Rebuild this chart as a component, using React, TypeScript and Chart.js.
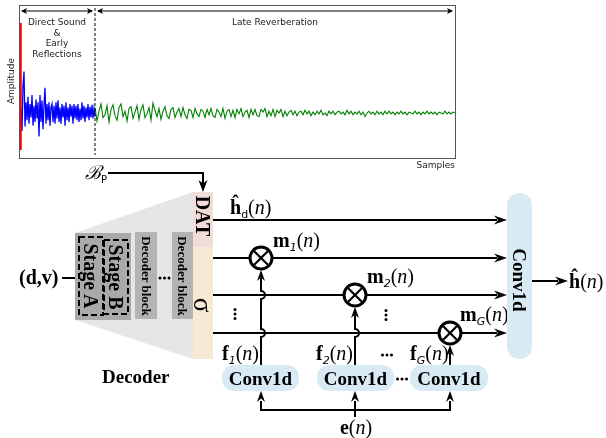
import React, { useEffect, useRef } from "react";
import { Chart, registerables } from "chart.js";

Chart.register(...registerables);

// ---- waveform data (sample index, amplitude) ----
const directX = [1.5, 1.5];
const directY = [1.0, -0.41];

const earlyStart = 2;
const earlyStep = 1;
const earlyValues = [
  0.05, -0.2, 0.3, 0.46, -0.15, 0.12, -0.08, 0.18, -0.12, 0.1,
  -0.05, 0.2, -0.14, 0.08, -0.1, 0.15, -0.06, 0.12, -0.26, 0.2,
  -0.1, 0.14, -0.18, 0.08, 0.28, -0.12, 0.1, -0.08, 0.12, -0.14,
  0.06, 0.1, -0.1, 0.08, -0.12, 0.12, -0.06, 0.14, -0.1, 0.06,
  -0.12, 0.1, -0.05, 0.08, -0.14, 0.12, -0.08, 0.06, -0.1, 0.1,
  -0.04, 0.08, -0.12, 0.1, -0.06, 0.08, -0.08, 0.1, -0.1, 0.05,
  -0.08, 0.12, -0.06, 0.08, -0.1, 0.06, -0.05, 0.1, -0.08, 0.07,
  -0.05, 0.09, -0.06, 0.05, -0.04,
];

const lateStart = 76;
const lateStep = 2;
const lateValues = [
  0.06, -0.09, 0.02, 0.1, -0.05, -0.02, 0.08, -0.1, 0.04, 0.09,
  -0.03, -0.08, 0.06, 0.1, -0.04, 0.02, -0.09, 0.05, 0.07, -0.06,
  0.01, 0.08, -0.07, 0.04, 0.09, -0.05, -0.01, 0.06, -0.08, 0.11,
  0.03, -0.04, 0.05, -0.07, 0.02, 0.07, -0.03, -0.06, 0.04, 0.06,
  -0.05, 0.01, 0.05, -0.04, 0.06, -0.02, -0.06, 0.04, 0.03, -0.05,
  0.05, -0.01, -0.04, 0.04, 0.02, -0.05, 0.04, -0.02, 0.05, -0.03,
  -0.05, 0.04, 0.01, -0.04, 0.05, -0.06, 0.02, 0.04, -0.04, 0.03,
  -0.05, 0.04, -0.01, 0.05, -0.04, 0.01, 0.03, -0.05, 0.04, -0.02,
  0.04, -0.03, -0.04, 0.04, 0.01, 0.05, -0.04, 0.02, -0.03, 0.04,
  -0.04, 0.03, 0.0, 0.04, -0.04, 0.02, -0.03, 0.01, 0.03, -0.02,
  0.02, -0.03, 0.01, 0.02, -0.02, 0.03, -0.01, 0.02, -0.03, 0.01,
  -0.02, 0.02, -0.01, 0.03, -0.02, 0.0, -0.03, 0.02, -0.01, 0.02,
  -0.02, 0.01, 0.02, -0.01, 0.01, -0.02, 0.03, -0.01, 0.02, -0.02,
  0.01, -0.01, 0.02, -0.02, 0.01, -0.04, 0.0, 0.02, -0.01, 0.01,
  -0.02, 0.02, -0.01, 0.01, -0.02, 0.02, -0.01, 0.02, -0.01, 0.01,
  -0.02, 0.01, -0.01, 0.02, -0.01, 0.01, -0.02, 0.01, 0.0, -0.01,
  0.02, -0.01, 0.01, -0.02, 0.01, -0.01, 0.02, -0.01, 0.01, -0.01,
  0.01, -0.02, 0.01, 0.0, -0.01, 0.02, -0.01, 0.01, -0.01, 0.01,
  0.0,
];

const xRange = [0, 436];
const yRange = [-0.5, 1.2];

const regionLabels = ["Direct Sound", "&", "Early", "Reflections"];
const lateLabel = "Late Reverberation";

const SERIF = "'Liberation Serif', 'Times New Roman', serif";
const SANS = "'DejaVu Sans', sans-serif";

function head(tx: number, ty: number, ang: number, len = 13, half = 4.5, notch = 4) {
  const c = Math.cos(ang), s = Math.sin(ang);
  const bx = tx - len * c, by = ty - len * s;
  const nx = tx - (len - notch) * c, ny = ty - (len - notch) * s;
  const p = [
    [tx, ty],
    [bx - half * s, by + half * c],
    [nx, ny],
    [bx + half * s, by - half * c],
  ];
  return p.map((q) => q.join(",")).join(" ");
}

const R = 0, D = Math.PI / 2, U = -Math.PI / 2, L = Math.PI;

function Times({ cx, cy, r }: { cx: number; cy: number; r: number }) {
  const k = r * 0.62;
  return (
    <g>
      <circle cx={cx} cy={cy} r={r} fill="#fff" stroke="#000" strokeWidth={3} />
      <line x1={cx - k} y1={cy - k} x2={cx + k} y2={cy + k} stroke="#000" strokeWidth={2.2} />
      <line x1={cx - k} y1={cy + k} x2={cx + k} y2={cy - k} stroke="#000" strokeWidth={2.2} />
    </g>
  );
}

function Sym({ x, y, base, sub }: any) {
  return (
    <text x={x} y={y} fontFamily={SERIF} fontSize={20} fill="#000">
      <tspan fontWeight="bold">{base}</tspan>
      <tspan fontFamily={SANS} fontSize={11} fontStyle="italic" dy={4}>
        {sub}
      </tspan>
      <tspan dy={-4}>(</tspan>
      <tspan fontStyle="italic">n</tspan>
      <tspan>)</tspan>
    </text>
  );
}

function Dots({ x, y, vertical = false }: { x: number; y: number; vertical?: boolean }) {
  const d = 4.5;
  return (
    <g fill="#000">
      {[-1, 0, 1].map((i) => (
        <circle key={i} cx={vertical ? x : x + i * d} cy={vertical ? y + i * d : y} r={1.5} />
      ))}
    </g>
  );
}

function Diagram() {
  const lineYs = [258, 295, 333];
  return (
    <svg width={606} height={438} style={{ position: "absolute", left: 0, top: 0 }}>
      {/* top plot frame */}
      <rect x={19.5} y={5.5} width={436} height={153} fill="none" stroke="#555" strokeWidth={1} />
      <line x1={95} y1={8} x2={95} y2={155} stroke="#000" strokeWidth={1} strokeDasharray="3,2" />
      <line x1={22} y1={11} x2={92} y2={11} stroke="#000" strokeWidth={1.2} />
      <polygon points={head(21, 11, L, 6, 3, 1.5)} fill="#000" />
      <polygon points={head(93, 11, R, 6, 3, 1.5)} fill="#000" />
      <line x1={98} y1={11} x2={452} y2={11} stroke="#000" strokeWidth={1.2} />
      <polygon points={head(97, 11, L, 6, 3, 1.5)} fill="#000" />
      <polygon points={head(453, 11, R, 6, 3, 1.5)} fill="#000" />
      {regionLabels.map((t, i) => (
        <text key={t} x={57} y={25 + i * 10.5} textAnchor="middle" fontFamily={SANS} fontSize={9} fill="#222">
          {t}
        </text>
      ))}
      <text x={275} y={25} textAnchor="middle" fontFamily={SANS} fontSize={9} fill="#222">
        {lateLabel}
      </text>
      <text transform="translate(14,81) rotate(-90)" textAnchor="middle" fontFamily={SANS} fontSize={9} fill="#222">
        Amplitude
      </text>
      <text x={455} y={168} textAnchor="end" fontFamily={SANS} fontSize={9} fill="#222">
        Samples
      </text>

      {/* B_P arrow */}
      <text x={85} y={179} fontFamily="'DejaVu Serif', serif" fontStyle="italic" fontSize={19} fill="#000">
        ℬ<tspan fontFamily={SANS} fontStyle="normal" fontSize={10} dy={4}>P</tspan>
      </text>
      <path d="M108,173 H203 V184" fill="none" stroke="#000" strokeWidth={2} />
      <polygon points={head(203, 192, D, 12, 4.5, 3.5)} fill="#000" />

      {/* decoder wedge */}
      <polygon points="75,233 193,192 193,359 75,320" fill="#e6e6e6" />
      <rect x={75} y={233} width={56} height={87} fill="#aaaaaa" />
      <rect x={79} y={237} width={24} height={78} fill="none" stroke="#000" strokeWidth={2} strokeDasharray="6,3" />
      <rect x={104} y={240} width={24} height={74} fill="none" stroke="#000" strokeWidth={2} strokeDasharray="6,3" />
      <text transform="translate(91,276) rotate(90)" textAnchor="middle" dominantBaseline="central" fontFamily={SERIF} fontWeight="bold" fontSize={20}>
        Stage A
      </text>
      <text transform="translate(116,277) rotate(90)" textAnchor="middle" dominantBaseline="central" fontFamily={SERIF} fontWeight="bold" fontSize={20}>
        Stage B
      </text>
      <rect x={135} y={232} width={22} height={87} fill="#b3b3b3" />
      <rect x={172} y={232} width={21} height={87} fill="#b3b3b3" />
      <text transform="translate(146,276) rotate(90)" textAnchor="middle" dominantBaseline="central" fontFamily={SERIF} fontWeight="bold" fontSize={13}>
        Decoder block
      </text>
      <text transform="translate(182.5,276) rotate(90)" textAnchor="middle" dominantBaseline="central" fontFamily={SERIF} fontWeight="bold" fontSize={13}>
        Decoder block
      </text>
      <Dots x={164.5} y={278} />
      <rect x={193} y={192} width={20} height={55} fill="#f2dcd9" />
      <rect x={193} y={247} width={20} height={112} fill="#f7e9d3" />
      <text transform="translate(203,216) rotate(90)" textAnchor="middle" dominantBaseline="central" fontFamily={SERIF} fontWeight="bold" fontSize={20}>
        DAT
      </text>
      <text transform="translate(203,305) rotate(90)" textAnchor="middle" dominantBaseline="central" fontFamily={SERIF} fontSize={27}>
        σ
      </text>

      {/* input */}
      <text x={19} y={284} fontFamily={SERIF} fontWeight="bold" fontSize={20}>
        (d,v)
      </text>
      <line x1={62} y1={278} x2={75} y2={278} stroke="#000" strokeWidth={2} />
      <text x={102} y={383} fontFamily={SERIF} fontWeight="bold" fontSize={19}>
        Decoder
      </text>

      {/* main horizontal lines */}
      {[220, ...lineYs].map((y) => (
        <g key={y}>
          <line x1={213} y1={y} x2={497} y2={y} stroke="#000" strokeWidth={2} />
          <polygon points={head(507, y, R)} fill="#000" />
        </g>
      ))}

      {/* vertical feeds with hop-overs */}
      <path d="M261,365 V337 a4,4 0 0 0 0,-8 V299 a4,4 0 0 0 0,-8 V278" fill="none" stroke="#000" strokeWidth={2} />
      <polygon points={head(261, 270, U, 11, 4, 3.5)} fill="#000" />
      <path d="M355,365 V337 a4,4 0 0 0 0,-8 V315" fill="none" stroke="#000" strokeWidth={2} />
      <polygon points={head(355, 307, U, 11, 4, 3.5)} fill="#000" />
      <path d="M450,365 V353" fill="none" stroke="#000" strokeWidth={2} />
      <polygon points={head(450, 345, U, 11, 4, 3.5)} fill="#000" />

      <Times cx={261} cy={258} r={11} />
      <Times cx={355} cy={295} r={11} />
      <Times cx={450} cy={333} r={11} />

      <Dots x={235} y={314} vertical />
      <Dots x={386} y={315} vertical />

      {/* labels */}
      <text x={230} y={214} fontFamily={SERIF} fontSize={20}>
        <tspan fontWeight="bold">ĥ</tspan>
        <tspan fontFamily={SANS} fontSize={11} dy={4}>d</tspan>
        <tspan dy={-4}>(</tspan>
        <tspan fontStyle="italic">n</tspan>)
      </text>
      <Sym x={273} y={247} base="m" sub="1" />
      <Sym x={367} y={283} base="m" sub="2" />
      <Sym x={460} y={321} base="m" sub="G" />
      <Sym x={222} y={360} base="f" sub="1" />
      <Sym x={316} y={360} base="f" sub="2" />
      <Sym x={410} y={360} base="f" sub="G" />
      <Dots x={387} y={355} />

      {/* big conv1d */}
      <rect x={507} y={193} width={25} height={166} rx={12} fill="#d8eaf3" />
      <text transform="translate(519.5,280) rotate(90)" textAnchor="middle" dominantBaseline="central" fontFamily={SERIF} fontWeight="bold" fontSize={19}>
        Conv1d
      </text>
      <line x1={532} y1={281} x2={558} y2={281} stroke="#000" strokeWidth={2} />
      <polygon points={head(568, 281, R)} fill="#000" />
      <text x={569} y={288} fontFamily={SERIF} fontSize={20}>
        <tspan fontWeight="bold">ĥ</tspan>(<tspan fontStyle="italic">n</tspan>)
      </text>

      {/* small conv1d boxes */}
      {[
        [222, 77],
        [317, 77],
        [410, 78],
      ].map(([x, w]) => (
        <g key={x}>
          <rect x={x} y={365} width={w} height={26} rx={12} fill="#d8eaf3" />
          <text x={x + w / 2} y={378} textAnchor="middle" dominantBaseline="central" fontFamily={SERIF} fontWeight="bold" fontSize={19}>
            Conv1d
          </text>
        </g>
      ))}
      <Dots x={402} y={379} />

      {/* e(n) bus */}
      <path d="M261,401 V410 H450 V401" fill="none" stroke="#000" strokeWidth={2} />
      <polygon points={head(261, 391, U, 11, 4, 3.5)} fill="#000" />
      <polygon points={head(450, 391, U, 11, 4, 3.5)} fill="#000" />
      <line x1={355} y1={417} x2={355} y2={401} stroke="#000" strokeWidth={2} />
      <polygon points={head(355, 391, U, 11, 4, 3.5)} fill="#000" />
      <text x={356} y={434} textAnchor="middle" fontFamily={SERIF} fontSize={20}>
        <tspan fontWeight="bold">e</tspan>(<tspan fontStyle="italic">n</tspan>)
      </text>
    </svg>
  );
}

export default function App() {
  const ref = useRef<HTMLCanvasElement>(null);
  useEffect(() => {
    const chart = new Chart(ref.current!, {
      type: "line",
      data: {
        datasets: [
          {
            data: directX.map((x, i) => ({ x, y: directY[i] })),
            borderColor: "#ff0000",
            borderWidth: 2.5,
            pointRadius: 0,
          },
          {
            data: earlyValues.map((v, i) => ({ x: earlyStart + i * earlyStep, y: v })),
            borderColor: "#0000ff",
            borderWidth: 1.3,
            pointRadius: 0,
          },
          {
            data: lateValues.map((v, i) => ({ x: lateStart + i * lateStep, y: v })),
            borderColor: "#008000",
            borderWidth: 1.1,
            pointRadius: 0,
          },
        ],
      },
      options: {
        animation: false,
        responsive: false,
        events: [],
        layout: { padding: 0 },
        elements: { line: { tension: 0 } },
        plugins: { legend: { display: false }, tooltip: { enabled: false } },
        scales: {
          x: { type: "linear", display: false, min: xRange[0], max: xRange[1] },
          y: { type: "linear", display: false, min: yRange[0], max: yRange[1] },
        },
      },
    });
    return () => chart.destroy();
  }, []);

  return (
    <div style={{ position: "absolute", left: 0, top: 0, width: 606, height: 438, background: "#fff", overflow: "hidden" }}>
      <canvas ref={ref} width={436} height={153} style={{ position: "absolute", left: 19, top: 5, width: 436, height: 153 }} />
      <Diagram />
    </div>
  );
}
